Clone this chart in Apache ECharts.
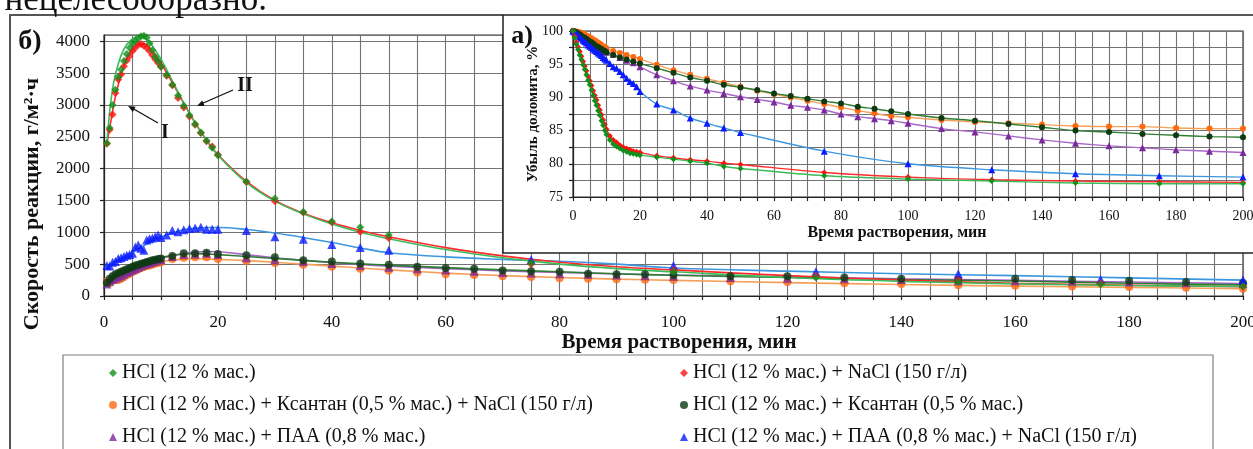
<!DOCTYPE html>
<html>
<head>
<meta charset="utf-8">
<script src="https://cdn.jsdelivr.net/npm/echarts@6/dist/echarts.min.js"></script>
<style>
html, body { margin: 0; padding: 0; background: #fff; }
#chart { width: 1253px; height: 449px; }
</style>
</head>
<body>
<div id="chart"></div>
<script>
// measurement times, min
var tFast = [0.5,1,1.5,2,2.5,3,3.5,4,4.5,5,5.5,6,6.5,7,7.5,8,8.5,9,9.5,10,11,12,13,14,15,16,17,18,19,20,25,30,35,40,45,50,75,100,125,150,175,200];
var tSlow = [0.5,1,1.5,2,2.5,3,3.5,4,4.5,5,5.5,6,6.5,7,7.5,8,8.5,9,9.5,10,12,14,16,18,20,25,30,35,40,45,50,55,60,65,70,75,80,85,90,95,100,110,120,130,140,150,160,170,180,190,200];
// times of the trend curves
var fitT = [0.5,1,1.5,2,3,4,5,6,7,8,9,10,12,14,16,18,20,25,30,35,40,45,50,60,70,80,90,100,120,140,160,180,200];

var names = [
    'HCl (12 % мас.)',
    'HCl (12 % мас.) + NaCl (150 г/л)',
    'HCl (12 % мас.) + Ксантан (0,5 % мас.) + NaCl (150 г/л)',
    'HCl (12 % мас.) + Ксантан (0,5 % мас.)',
    'HCl (12 % мас.) + ПАА (0,8 % мас.)',
    'HCl (12 % мас.) + ПАА (0,8 % мас.) + NaCl (150 г/л)'
];

// б) reaction rate, g/m2*h
var rateHCl = [2400,2640,3000,3240,3440,3560,3690,3800,3900,3970,4010,4050,4080,4090,4060,3970,3860,3760,3690,3600,3470,3320,3150,2990,2840,2700,2570,2440,2330,2210,1800,1530,1320,1170,1080,960,520,380,290,220,180,150];
var rateNaCl = [2390,2610,2850,3190,3400,3480,3610,3700,3770,3850,3900,3950,3960,3930,3900,3850,3780,3720,3660,3600,3460,3310,3110,2960,2820,2690,2560,2430,2350,2220,1790,1490,1310,1160,1010,910,500,410,320,250,200,150];
var ratePaaNaCl = [480,470,530,540,590,600,620,640,650,670,770,800,750,720,880,900,910,930,960,920,960,1030,1010,1040,1060,1070,1080,1050,1050,1050,1030,930,890,810,760,720,570,480,380,350,260,250];
var rateXan = [210,270,310,340,360,380,400,420,440,460,480,490,505,520,535,545,560,570,580,590,630,670,670,680,660,640,610,560,540,510,490,460,440,430,400,390,380,350,340,340,330,310,310,290,270,250,270,250,240,220,205];
var ratePaa = [190,230,260,280,300,320,340,370,390,410,430,450,470,490,505,520,535,550,565,575,620,650,660,670,650,600,570,540,510,480,450,430,410,390,370,360,350,340,330,320,310,290,280,270,260,240,240,230,220,210,200];
var rateXanNaCl = [230,200,240,260,250,270,300,330,350,380,400,420,440,455,470,480,495,510,520,530,580,600,610,610,580,550,520,490,460,430,400,370,340,330,310,300,280,270,265,255,250,230,220,200,190,170,160,150,140,130,115];

// б) trend curves
var fitHCl = [2400,2900,3250,3480,3780,3950,4040,4080,4070,3990,3860,3720,3380,3030,2720,2450,2210,1780,1490,1290,1130,1000,900,730,600,500,430,380,290,230,190,165,150];
var fitNaCl = [2390,2640,2900,3130,3480,3720,3870,3950,3960,3900,3790,3660,3350,3030,2720,2450,2220,1800,1500,1300,1150,1030,930,760,630,530,460,410,320,250,200,170,145];
var fitPaaNaCl = [460,490,515,540,590,640,690,740,790,840,885,925,990,1040,1065,1075,1075,1045,990,920,840,755,680,615,575,545,500,440,390,350,320,285,250];
var fitXan = [230,280,315,350,400,440,480,510,540,565,585,605,640,660,665,660,650,620,590,560,530,505,485,445,410,380,350,325,290,260,235,200,175];
var fitPaa = [200,240,270,300,350,400,440,480,510,540,565,590,630,665,690,700,695,650,600,560,525,495,470,430,395,370,345,330,300,270,245,220,195];
var fitXanNaCl = [200,230,255,280,330,370,410,445,475,500,520,540,565,580,585,582,575,555,530,500,470,440,410,360,320,290,265,245,210,180,155,135,115];

// а) dolomite loss, % (first value at t = 0)
var lossHCl = [100,99.0,98.0,97.2,96.4,95.7,94.9,94.2,93.4,92.6,91.9,91.1,90.3,89.5,88.8,88.0,87.3,86.5,85.8,85.0,84.4,83.6,83.0,82.6,82.3,82.0,81.8,81.6,81.5,81.4,81.3,81.0,80.7,80.4,80.1,79.6,79.3,78.2,77.7,77.4,77.1,77.0,77.0];
var lossNaCl = [100,99.2,98.3,97.6,96.9,96.2,95.4,94.7,94.0,93.2,92.5,91.8,91.0,90.3,89.6,88.8,88.1,87.4,86.6,85.9,85.2,84.2,83.6,83.2,82.8,82.5,82.3,82.1,81.9,81.8,81.7,81.2,80.9,80.6,80.4,80.1,79.9,78.7,78.0,77.6,77.4,77.3,77.2];
var lossPaaNaCl = [100,99.8,99.6,99.4,99.1,98.9,98.6,98.4,98.2,97.9,97.7,97.5,97.3,97.1,96.9,96.7,96.5,96.3,96.0,95.8,95.6,95.1,94.6,94.4,93.9,93.4,92.9,92.4,92.1,91.6,90.9,89.0,88.1,86.9,86.1,85.4,84.7,81.9,80.0,79.1,78.5,78.2,78.0];
var lossXanNaCl = [100,100.0,99.9,99.9,99.8,99.7,99.6,99.5,99.3,99.2,99.0,98.9,98.7,98.6,98.4,98.2,98.1,97.9,97.7,97.6,97.4,97.0,96.7,96.4,96.1,95.8,94.9,94.1,93.4,92.8,92.2,91.6,91.0,90.5,90.0,89.5,89.0,88.5,88.0,87.6,87.2,87.0,86.6,86.3,86.1,85.9,85.7,85.6,85.6,85.4,85.3,85.3];
var lossXan = [100,99.9,99.8,99.6,99.5,99.3,99.1,99.0,98.8,98.6,98.4,98.3,98.1,97.9,97.7,97.6,97.4,97.3,97.1,97.0,96.8,96.4,96.0,95.7,95.4,95.1,94.4,93.7,93.0,92.5,91.9,91.5,91.1,90.6,90.2,89.8,89.4,89.1,88.6,88.3,87.9,87.5,86.9,86.5,86.0,85.5,85.0,84.8,84.5,84.3,84.1,84.0];
var lossPaa = [100,99.9,99.7,99.5,99.3,99.1,98.9,98.7,98.6,98.4,98.2,98.1,97.9,97.8,97.6,97.5,97.3,97.2,97.0,96.9,96.8,96.5,96.0,95.6,95.2,94.6,93.4,92.5,91.7,91.1,90.6,90.1,89.7,89.3,88.8,88.5,88.1,87.5,87.1,86.8,86.5,86.1,85.3,84.8,84.2,83.6,83.1,82.7,82.4,82.1,81.9,81.7];

var FONT = '"Liberation Serif", "Times New Roman", serif';

var samples = [
    {name: names[2], sym: 'circle',   mc: '#ff6a10', lc: '#f5a05a', t: tSlow, rate: rateXanNaCl, fit: fitXanNaCl, loss: lossXanNaCl},
    {name: names[4], sym: 'triangle', mc: '#7a2a9a', lc: '#a866c8', t: tSlow, rate: ratePaa,     fit: fitPaa,     loss: lossPaa},
    {name: names[3], sym: 'circle',   mc: '#0d3a12', lc: '#2f7d34', t: tSlow, rate: rateXan,     fit: fitXan,     loss: lossXan},
    {name: names[5], sym: 'triangle', mc: '#0a1cff', lc: '#3d97e0', t: tFast, rate: ratePaaNaCl, fit: fitPaaNaCl, loss: lossPaaNaCl},
    {name: names[1], sym: 'diamond',  mc: '#ff1010', lc: '#ff2a2a', t: tFast, rate: rateNaCl,    fit: fitNaCl,    loss: lossNaCl},
    {name: names[0], sym: 'diamond',  mc: '#10901c', lc: '#3cbb5a', t: tFast, rate: rateHCl,     fit: fitHCl,     loss: lossHCl}
];

function pairs(ts, vs){
    return ts.map(function(t, i){ return [t, vs[i]]; });
}

var series = [];
samples.forEach(function(s){
    series.push({
        type: 'scatter', name: s.name, xAxisIndex: 0, yAxisIndex: 0,
        symbol: s.sym, symbolSize: s.sym == 'triangle' ? 9 : 8,
        itemStyle: {color: s.mc}, data: pairs(s.t, s.rate), z: 3
    });
});
samples.forEach(function(s){
    series.push({
        type: 'line', name: s.name + ' - тренд', xAxisIndex: 0, yAxisIndex: 0,
        smooth: 0.4, symbol: 'none', lineStyle: {color: s.lc, width: 1.6},
        data: pairs(fitT, s.fit), z: 2
    });
});
samples.forEach(function(s){
    series.push({
        type: 'line', name: s.name, xAxisIndex: 1, yAxisIndex: 1,
        smooth: 0.3, symbol: s.sym, symbolSize: s.sym == 'triangle' ? 7 : 6, showSymbol: true,
        itemStyle: {color: s.mc}, lineStyle: {color: s.lc, width: 1.4},
        data: pairs([0].concat(s.t), s.loss), z: 12
    });
});

var gridLine = {color: '#737373', width: 1.1};
var axLine = {color: '#222', width: 1.2};
var plain = function(v){ return String(v); };

function txt(text, x, y, size, bold, rot){
    return {
        type: 'text', x: x, y: y, rotation: rot || 0, z: 20,
        style: {
            text: text, x: 0, y: 0, fill: '#111',
            font: (bold ? 'bold ' : '') + size + 'px ' + FONT,
            align: 'center', verticalAlign: 'middle',
            textAlign: 'center', textVerticalAlign: 'middle'
        }
    };
}

var chartDom = document.getElementById('chart');
var myChart = echarts.init(chartDom);
var option;

option = {
    animation: false,
    backgroundColor: '#fff',
    grid: [
        {left: 104, right: 10, top: 35, bottom: 153, show: true, borderColor: '#333', borderWidth: 1.2, outerBoundsMode: 'none'},
        {left: 573, right: 10, top: 31, bottom: 252, show: true, borderColor: '#333', borderWidth: 1.2, z: 10, outerBoundsMode: 'none'}
    ],
    xAxis: [
        {
            gridIndex: 0, type: 'value', min: 0, max: 200, interval: 20,
            axisLine: {show: true, onZero: false, lineStyle: axLine},
            axisTick: {show: true, length: 4, lineStyle: axLine},
            minorTick: {show: true, splitNumber: 4, length: 4, lineStyle: axLine},
            splitLine: {show: true, lineStyle: gridLine},
            minorSplitLine: {show: true, lineStyle: gridLine},
            axisLabel: {margin: 18, fontFamily: FONT, fontSize: 17, color: '#111', formatter: plain}
        },
        {
            gridIndex: 1, type: 'value', min: 0, max: 200, interval: 20, z: 10,
            axisLine: {show: true, onZero: false, lineStyle: axLine},
            axisTick: {show: true, length: 4, lineStyle: axLine},
            minorTick: {show: true, splitNumber: 4, length: 4, lineStyle: axLine},
            splitLine: {show: true, lineStyle: gridLine},
            minorSplitLine: {show: true, lineStyle: gridLine},
            axisLabel: {margin: 12, fontFamily: FONT, fontSize: 14, color: '#111', formatter: plain}
        }
    ],
    yAxis: [
        {
            gridIndex: 0, type: 'value', min: 0, max: 4100, interval: 500,
            axisLine: {show: true, onZero: false, lineStyle: axLine},
            axisTick: {show: true, length: 4, lineStyle: axLine},
            splitLine: {show: true, lineStyle: gridLine},
            axisLabel: {margin: 14, fontFamily: FONT, fontSize: 17, color: '#111', showMaxLabel: false, formatter: plain}
        },
        {
            gridIndex: 1, type: 'value', min: 75, max: 100, interval: 5, z: 10,
            axisLine: {show: true, onZero: false, lineStyle: axLine},
            axisTick: {show: true, length: 4, lineStyle: axLine},
            minorTick: {show: true, splitNumber: 2, length: 4, lineStyle: axLine},
            splitLine: {show: true, lineStyle: gridLine},
            minorSplitLine: {show: true, lineStyle: gridLine},
            axisLabel: {margin: 10, fontFamily: FONT, fontSize: 14, color: '#111', formatter: plain}
        }
    ],
    legend: [
        {
            orient: 'vertical', left: 109, top: 363, padding: 0, itemGap: 12,
            itemWidth: 8, itemHeight: 8, selectedMode: false,
            data: [names[0], names[2], names[4]],
            textStyle: {fontFamily: FONT, fontSize: 20, lineHeight: 20, color: '#111'}
        },
        {
            orient: 'vertical', left: 680, top: 363, padding: 0, itemGap: 12,
            itemWidth: 8, itemHeight: 8, selectedMode: false,
            data: [names[1], names[3], names[5]],
            textStyle: {fontFamily: FONT, fontSize: 20, lineHeight: 20, color: '#111'}
        }
    ],
    graphic: [
        // outer frame and inset panel
        {type: 'polyline', z: 1, shape: {points: [[10, 460], [10, 15], [503, 15]]}, style: {stroke: '#555', lineWidth: 2, fill: null}},
        {type: 'rect', z: 5, shape: {x: 503, y: 15, width: 780, height: 238}, style: {fill: '#fff', stroke: '#222', lineWidth: 1.5}},
        {type: 'rect', z: 1, shape: {x: 63, y: 355, width: 1150, height: 120}, style: {fill: null, stroke: '#808080', lineWidth: 1.2}},
        {type: 'text', z: 20, x: 267, y: 1, style: {text: 'нецелесообразно.', x: 0, y: 0, fill: '#111', font: '35px ' + FONT, align: 'right', verticalAlign: 'middle', textAlign: 'right', textVerticalAlign: 'middle'}},
        txt('б)', 30, 42, 28, true),
        txt('а)', 522, 36, 26, true),
        txt('Скорость реакции, г/м²·ч', 32, 204, 22, true, Math.PI / 2),
        txt('Время растворения, мин', 679, 343, 21, true),
        txt('Убыль доломита, %', 533, 114, 15, true, Math.PI / 2),
        txt('Время растворения, мин', 897, 233, 16, true),
        // curve markers I and II
        txt('I', 165, 133, 20, true),
        txt('II', 245, 86, 20, true),
        {type: 'line', z: 20, shape: {x1: 158, y1: 123, x2: 132, y2: 108}, style: {stroke: '#111', lineWidth: 1.3}},
        {type: 'polygon', z: 20, shape: {points: [[128, 106], [135.6, 106.7], [132.8, 111.9]]}, style: {fill: '#111'}},
        {type: 'line', z: 20, shape: {x1: 233, y1: 90, x2: 201, y2: 104}, style: {stroke: '#111', lineWidth: 1.3}},
        {type: 'polygon', z: 20, shape: {points: [[197, 106], [204.6, 105.7], [202.2, 100.6]]}, style: {fill: '#111'}}
    ],
    series: series
};

option && myChart.setOption(option);
</script>
</body>
</html>
